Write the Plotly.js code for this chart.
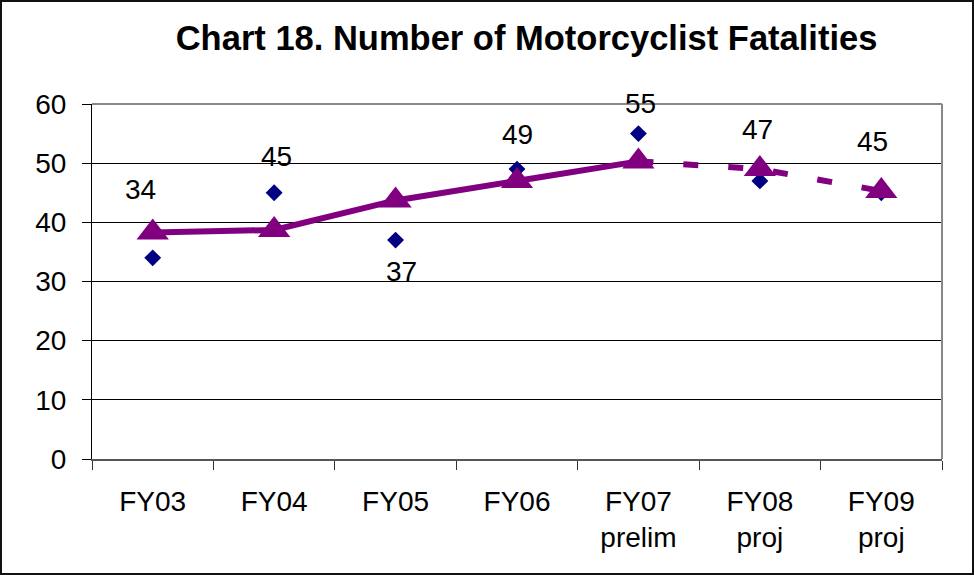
<!DOCTYPE html>
<html>
<head>
<meta charset="utf-8">
<script src="https://cdn.plot.ly/plotly-3.0.1.min.js"></script>
<style>
  html, body { margin: 0; padding: 0; background: #fff; }
  #wrap { position: relative; width: 974px; height: 575px; }
  #chart { width: 974px; height: 575px; }
  #frame { position: absolute; left: 0; top: 0; width: 974px; height: 575px; box-sizing: border-box; border: 2px solid #111; pointer-events: none; }
</style>
</head>
<body>
<div id="wrap"><div id="chart"></div><div id="frame"></div></div>
<script>
// Data
const categories = ["FY03", "FY04", "FY05", "FY06", "FY07<br>prelim", "FY08<br>proj", "FY09<br>proj"];
const fatalities = [34, 45, 37, 49, 55, 47, 45];            // navy diamonds (labelled values)
const trend = [38.3, 38.7, 43.7, 47, 50.3, 49, 45.3];       // purple triangles / line
const solidCount = 5;                                       // FY03..FY07 solid, FY07..FY09 dashed

// Label offsets (pixels) relative to each diamond
const labelDx = [-12, 2, 6, 0, 2, -2, -9];
const labelDy = [68, 36, -31, 35, 30, 51, 51];

const FONT = "Liberation Sans, Arial, sans-serif";
const NAVY = "#000080";
const PURPLE = "#800080";

const traces = [
  {
    x: categories, y: fatalities, type: "scatter", mode: "markers",
    marker: { symbol: "diamond", size: 13, color: NAVY },
    hoverinfo: "x+y", showlegend: false
  },
  {
    x: categories.slice(0, solidCount), y: trend.slice(0, solidCount),
    type: "scatter", mode: "lines",
    line: { color: PURPLE, width: 6 }, showlegend: false, hoverinfo: "skip"
  },
  {
    x: categories.slice(solidCount - 1), y: trend.slice(solidCount - 1),
    type: "scatter", mode: "lines",
    line: { color: PURPLE, width: 6, dash: "15px,30px" }, showlegend: false, hoverinfo: "skip"
  },
  {
    x: categories, y: trend, type: "scatter", mode: "markers",
    marker: { symbol: "triangle-up", size: 28, color: PURPLE },
    hoverinfo: "x+y", showlegend: false
  }
];

const annotations = categories.map((c, i) => ({
  x: c, y: fatalities[i], xref: "x", yref: "y",
  text: String(fatalities[i]), showarrow: false,
  xshift: labelDx[i], yshift: labelDy[i],
  font: { family: FONT, size: 28, color: "#000" }
}));

const layout = {
  width: 974, height: 575,
  margin: { l: 92, r: 32, t: 104, b: 116 },
  paper_bgcolor: "#fff", plot_bgcolor: "#fff",
  font: { family: FONT, color: "#000" },
  title: {
    text: "Chart 18. Number of Motorcyclist Fatalities",
    font: { family: FONT, size: 34.5, color: "#000", weight: "bold" },
    xref: "container", yref: "container", x: 0.5406, y: 0.934,
    xanchor: "center", yanchor: "middle"
  },
  xaxis: {
    type: "category", range: [-0.5, 6.5],
    tickson: "boundaries", ticks: "outside", ticklen: 9, tickcolor: "#333", tickwidth: 1,
    showgrid: false, showline: true, linecolor: "#555", linewidth: 2,
    tickfont: { family: FONT, size: 28, color: "#000" },
    ticklabelstandoff: 16, zeroline: false, fixedrange: true
  },
  yaxis: {
    range: [0, 60], tickvals: [0, 10, 20, 30, 40, 50, 60], dtick: 10,
    ticks: "outside", ticklen: 9, tickcolor: "#000", tickwidth: 1,
    showgrid: true, gridcolor: "#000", gridwidth: 1,
    showline: true, linecolor: "#000", linewidth: 1,
    zeroline: false,
    tickfont: { family: FONT, size: 28, color: "#000" },
    ticklabelstandoff: 10, fixedrange: true
  },
  shapes: [
    { type: "line", xref: "paper", yref: "paper", x0: 0, x1: 1, y0: 1, y1: 1, line: { color: "#888", width: 2 }, layer: "above" },
    { type: "line", xref: "paper", yref: "paper", x0: 1, x1: 1, y0: 0, y1: 1, line: { color: "#888", width: 2 }, layer: "above" }
  ],
  annotations: annotations
};

Plotly.newPlot("chart", traces, layout, { displayModeBar: false, staticPlot: true });
</script>
</body>
</html>
